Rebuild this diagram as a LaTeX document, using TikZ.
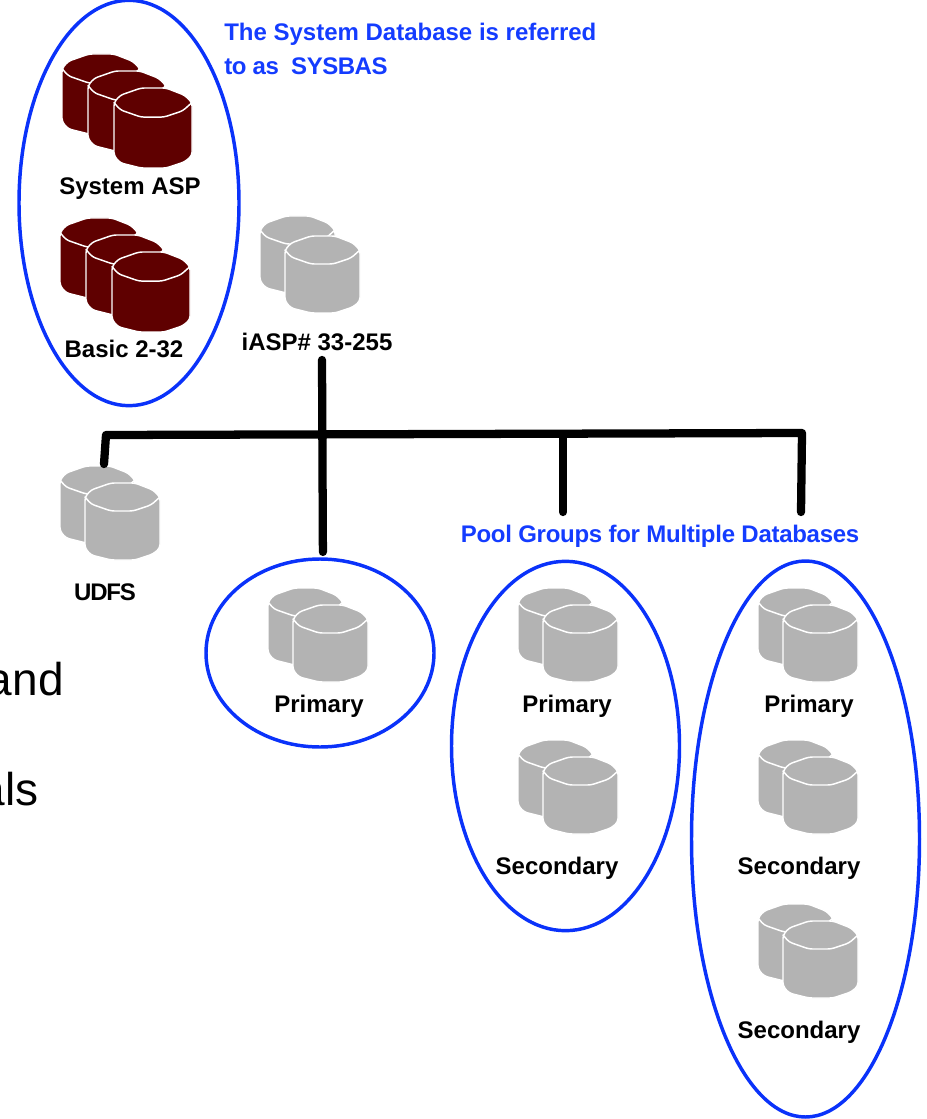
\documentclass[tikz,border=0pt]{standalone}
\usepackage{fontspec}
\setmainfont{Liberation Sans}
\usetikzlibrary{shapes.geometric}

\begin{document}
\begin{tikzpicture}
		[x=.75pt,y=-.75pt,line cap=round,
		%Styles
		pool ring/.style={ellipse,draw=ringcolor,line width=2.6pt,inner sep=0pt},
		disk label/.style={anchor=base,font=\bfseries\fontsize{18}{20}\selectfont,inner sep=0pt},
		blue text/.style={disk label,anchor=base west,text=textcolor},
		back text/.style={anchor=base east,font=\fontsize{34.5}{40}\selectfont,inner sep=0pt},
		heavy line/.style={line width=6.2pt,line join=round},
		pics/disk/.style={code={
			\filldraw[fill=#1,draw=white,line width=1.1pt,rounded corners=2.5pt] (0,14) -- (6,7) -- (26,0) -- (50,0) -- (68,7) -- (75,14) -- (75,65) -- (68,71) -- (50,77) -- (26,77) -- (6,72) -- (0,65) -- cycle;
			\draw[white,line width=1.1pt,rounded corners=2.5pt] (0,14) -- (6,21) -- (26,28) -- (48,28) -- (66,22) -- (75,14);
		}}
		]
		
		%Colors
		\definecolor{ringcolor}{RGB}{10,50,250}
		\definecolor{textcolor}{RGB}{20,60,255}
		\definecolor{sysdisk}{RGB}{95,0,0}
		\definecolor{pooldisk}{RGB}{179,179,179}
		
		%The graphic
		\useasboundingbox (0,0) rectangle (926,1119);
		\clip (0,0) rectangle (926,1119);
		
		%Left behind text
		\node[back text] (and text) at (64,695) {and};
		\node[back text] (als text) at (39,805) {als};
		
		%Disks
		\foreach \x/\y in {62/54,88/71,114/88,60/218,86/235,112/252}
			\pic[scale=1.04] at (\x,\y) {disk=sysdisk};
		\foreach \x/\y in {260/216,285/236,60/466,85/483,268/588,293/605,518/588,543/605,518/740,543/757,758/588,783/605,758/740,783/757,758/904,783/921}
			\pic at (\x,\y) {disk=pooldisk};
		
		%Rings
		\node[pool ring,minimum width=165pt,minimum height=304pt] (system ring) at (129,203) {};
		\node[pool ring,minimum width=171pt,minimum height=141pt] (primary ring) at (320,653) {};
		\node[pool ring,minimum width=171pt,minimum height=277pt] (group ring) at (565.5,746) {};
		\node[pool ring,minimum width=171pt,minimum height=417pt] (multi ring) at (805.5,839) {};
		
		%Labels
		\node[disk label] (system asp) at (130,195) {System ASP};
		\node[disk label] (basic) at (124,358) {Basic 2-32};
		\node[disk label] (iasp) at (317,351) {iASP\# 33-255};
		\node[disk label] (udfs) at (105,600) {\addfontfeature{LetterSpace=-5}UDFS};
		\node[disk label] (primary a) at (319,712) {Primary};
		\node[disk label] (primary b) at (567,712) {Primary};
		\node[disk label] (secondary b) at (557,874) {Secondary};
		\node[disk label] (primary c) at (809,712) {Primary};
		\node[disk label] (secondary c) at (799,874) {Secondary};
		\node[disk label] (tertiary c) at (799,1038) {Secondary};
		\node[blue text] (sysbas one) at (224,41) {The System Database is referred};
		\node[blue text] (sysbas two) at (224,75) {\addfontfeature{LetterSpace=-2}to as\ \ SYSBAS};
		\node[disk label,text=textcolor] (pool text) at (660,542) {\addfontfeature{LetterSpace=-1.2}Pool Groups for Multiple Databases};
		
		%Connectors
		\coordinate (iasp drop) at (322,360);
		\coordinate (bus left) at (106,435);
		\coordinate (bus mid) at (563,434.5);
		\coordinate (bus right) at (802,433);
		\coordinate (udfs end) at (104,464);
		\coordinate (mid end) at (563,512);
		\coordinate (right end) at (801,512);
		
		\draw[heavy line] (udfs end) -- (bus left) -- (bus right) -- (right end);
		\draw[heavy line] (bus mid) -- (mid end);
		\draw[heavy line,shorten >=4pt] (iasp drop) -- ([xshift=2.2pt]primary ring.north);
		
	\end{tikzpicture}
\end{document}
